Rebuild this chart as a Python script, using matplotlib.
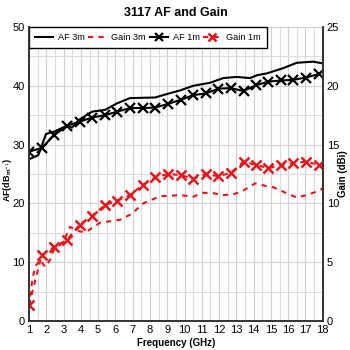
import matplotlib
matplotlib.use("Agg")
import matplotlib.pyplot as plt
from matplotlib.ticker import MultipleLocator

plt.rcParams['font.family'] = ['Liberation Sans Narrow', 'Liberation Sans', 'DejaVu Sans']

# AF 3m (dB/m)
f_af3 = [1, 1.54, 1.98, 2.45, 3.2, 3.49, 3.89, 4.65, 5.4, 6.09, 6.84, 8.29, 8.99, 9.74,
         10.51, 11.47, 12.24, 13.02, 13.79, 14.21, 14.76, 15.72, 16.49, 17.45, 18]
af3 = [27.5, 28.2, 31.8, 32.2, 33.2, 32.9, 34.2, 35.6, 35.9, 37.0, 37.9, 38.0, 38.6, 39.2,
       40.0, 40.5, 41.3, 41.5, 41.3, 41.8, 42.1, 43.0, 43.9, 44.1, 43.8]

# AF 1m (dB/m)
f_af1 = [1, 1.73, 2.46, 3.2, 3.93, 4.66, 5.4, 6.1, 6.85, 7.58, 8.31, 9.03, 9.77, 10.5,
         11.23, 11.96, 12.68, 13.42, 14.14, 14.86, 15.58, 16.3, 17.03, 17.8]
af1 = [28.8, 29.4, 31.6, 33.2, 33.9, 34.6, 35.0, 35.6, 36.2, 36.2, 36.3, 36.9, 37.6, 38.4,
       38.7, 39.5, 39.6, 39.1, 40.1, 40.7, 40.9, 41.0, 41.4, 42.0]

# Gain 3m (dBi)
f_g3 = [1.0, 1.06, 1.19, 1.35, 1.64, 1.93, 2.22, 2.41, 2.98, 3.37, 3.95, 4.34, 5.11, 6.27,
        6.94, 7.61, 8.58, 9.74, 10.51, 11.09, 11.67, 12.24, 12.82, 13.31, 14.08, 14.66,
        15.14, 15.91, 16.49, 17.07, 17.84, 18]
g3 = [1.2, 2.1, 3.5, 4.6, 5.2, 4.6, 5.2, 6.0, 6.7, 8.0, 7.6, 7.6, 8.36, 8.6,
      9.1, 10.0, 10.6, 10.7, 10.57, 10.9, 10.86, 10.7, 10.77, 11.0, 11.7, 11.5,
      11.37, 10.86, 10.5, 10.7, 11.1, 11.3]

# Gain 1m (dBi)
f_g1 = f_af1
g1 = [1.36, 5.6, 6.3, 6.9, 8.2, 8.95, 9.86, 10.23, 10.7, 11.57, 12.2, 12.5, 12.4, 12.1,
      12.5, 12.3, 12.6, 13.55, 13.26, 13.0, 13.26, 13.4, 13.55, 13.26]

fig = plt.figure(figsize=(3.5, 3.5), dpi=100)
ax = fig.add_axes([0.083, 0.083, 0.839, 0.840])
ax2 = ax.twinx()

l1, = ax.plot(f_af3, af3, color='black', lw=1.5, label='AF 3m')
l3, = ax.plot(f_af1, af1, color='black', lw=1.5, marker='x', ms=7, mew=1.6, label='AF 1m')
l2, = ax2.plot(f_g3, g3, color='#e8141b', lw=1.5, ls=(0, (2.5, 2.5)), label='Gain 3m')
l4, = ax2.plot(f_g1, g1, color='#e8141b', lw=1.5, ls=(0, (2.5, 2.5)), marker='x', ms=7, mew=1.8, label='Gain 1m')

ax.set_xlim(1, 18)
ax.set_ylim(0, 50)
ax2.set_ylim(0, 25)
ax.xaxis.set_major_locator(MultipleLocator(1))
ax.xaxis.set_minor_locator(MultipleLocator(0.5))
ax.yaxis.set_major_locator(MultipleLocator(10))
ax.yaxis.set_minor_locator(MultipleLocator(5))
ax2.yaxis.set_major_locator(MultipleLocator(5))

ax.grid(True, which='major', color='#d0d0d0', lw=0.8)
ax.grid(True, which='minor', color='#dcdcdc', lw=0.8)
ax.set_axisbelow(True)

for a in (ax, ax2):
    a.tick_params(labelsize=8, length=0, pad=3)
    a.tick_params(which='minor', length=0)
    for s in a.spines.values():
        s.set_color('#333333')
        s.set_linewidth(1.2)
ax.spines['top'].set_visible(False)
ax2.spines['top'].set_visible(False)

ax.set_xlabel('Frequency (GHz)', fontsize=7, fontweight='bold', labelpad=2)
ax.set_ylabel(r'AF(dB$_{\mathregular{m}^{-1}}$)', fontsize=6.5, fontweight='bold')
ax2.set_ylabel('Gain (dBi)', fontsize=7, fontweight='bold')
ax.yaxis.set_label_coords(-0.05, 0.48)
ax2.yaxis.set_label_coords(1.052, 0.5)
ax.set_title('3117 AF and Gain', fontsize=9, fontweight='bold', pad=8)

leg = ax.legend(handles=[l1, l2, l3, l4], loc='upper left', ncol=4, fontsize=6.6,
                frameon=True, fancybox=False, edgecolor='black', framealpha=1,
                borderaxespad=0, handlelength=2.0, columnspacing=0.4, handletextpad=0.5,
                borderpad=0.65, markerscale=0.9)
leg.get_frame().set_linewidth(1.0)
leg.set_zorder(10)

fig.savefig('out.png', dpi=100)
